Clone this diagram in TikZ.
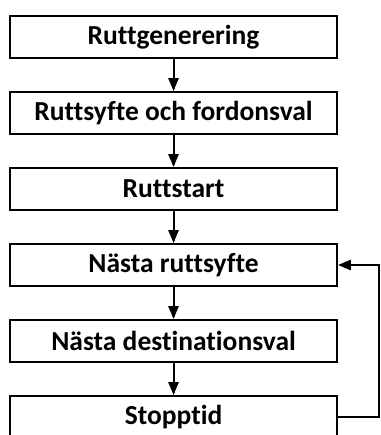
\documentclass[tikz,border=0pt]{standalone}
\usepackage{fontspec}
\setmainfont[Ligatures=CommonOff]{Carlito}
\usepackage{tikz}
\usetikzlibrary{arrows,positioning}
\tikzset{stepbox/.style={draw,rectangle,line width=2.4pt,minimum width=327pt,minimum height=42pt,inner sep=0pt,font=\fontsize{27.5}{32}\selectfont\bfseries}}

\begin{document}
\begin{tikzpicture}[line cap=rect,line join=miter,>=triangle 45,x=1pt,y=-1pt,node distance=31.6pt]
\useasboundingbox (0,0) rectangle (380,435);
\clip (0,0) rectangle (380,435);
\node[stepbox] (gen) at (173.5,37) {Ruttgenerering};
\node[stepbox,below=of gen] (syfte) {Ruttsyfte och fordonsval};
\node[stepbox,below=of syfte] (start) {Ruttstart};
\node[stepbox,below=of start] (nasta) {Nästa ruttsyfte};
\node[stepbox,below=of nasta] (dest) {Nästa destinationsval};
\node[stepbox,below=of dest] (stopp) {Stopptid};
\draw [->,line width=2pt] (gen) -- (syfte);
\draw [->,line width=2pt] (syfte) -- (start);
\draw [->,line width=2pt] (start) -- (nasta);
\draw [->,line width=2pt] (nasta) -- (dest);
\draw [->,line width=2pt] (dest) -- (stopp);
\draw [->,line width=2pt] (stopp.east) -- ++(41,0) |- (nasta.east);
\end{tikzpicture}
\end{document}
